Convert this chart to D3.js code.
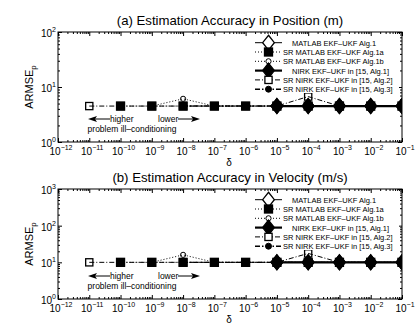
<!DOCTYPE html>
<html>
<head>
<meta charset="utf-8">
<script src="https://cdn.jsdelivr.net/npm/d3@7"></script>
<style>
  body { margin: 0; background: #fff; }
  svg { font-family: "Liberation Sans", Arial, Helvetica, sans-serif; }
</style>
</head>
<body>
<div id="chart"></div>
<script>
// delta values (x axis), 1e-11 .. 1e-1
const deltas = [1e-11, 1e-10, 1e-9, 1e-8, 1e-7, 1e-6, 1e-5, 1e-4, 1e-3, 1e-2, 1e-1];

// legend labels
const seriesNames = [
    "MATLAB EKF\u2013UKF Alg.1",
    "SR MATLAB EKF\u2013UKF Alg.1a",
    "SR MATLAB EKF\u2013UKF Alg.1b",
    "NIRK EKF\u2013UKF in [15, Alg.1]",
    "SR NIRK EKF\u2013UKF in [15, Alg.2]",
    "SR NIRK EKF\u2013UKF in [15, Alg.3]"
];

// (a) position ARMSE (null = not shown)
const posMatlab1  = [null, null, null, null, null, null, 4.5, 4.5, 4.5, 4.5, 4.5];
const posSrMat1a  = [null, 4.5, 4.5, 4.5, 4.5, 4.5, 4.5, 4.5, 4.5, 4.5, 4.5];
const posSrMat1b  = [null, null, 4.5, 6.1, 4.5, 4.5, 4.5, 4.5, 4.5, 4.5, 4.5];
const posNirk1    = [null, null, null, null, null, null, 4.5, 4.5, 4.5, 4.5, 4.5];
const posSrNirk2  = [4.5, 4.5, 4.5, 4.5, 4.5, 4.5, 4.5, 6.7, 4.5, 4.5, 4.5];
const posSrNirk3  = [null, 4.5, null, 4.5, 4.5, 4.5, 4.5, 4.5, 4.5, 4.5, 4.5];

// (b) velocity ARMSE
const velMatlab1  = [null, null, null, null, null, null, 10, 10, 10, 10, 10];
const velSrMat1a  = [null, 10, 10, 10, 10, 10, 10, 10, 10, 10, 10];
const velSrMat1b  = [null, null, 10, 16, 10, 10, 10, 10, 10, 10, 10];
const velNirk1    = [null, null, null, null, null, null, 10, 10, 10, 10, 10];
const velSrNirk2  = [10, 10, 10, 10, 10, 10, 10, 17.5, 10, 10, 10];
const velSrNirk3  = [null, 10, null, 10, 10, 10, 10, 10, 10, 10, 10];

const xDecades = d3.range(-12, 0);   // tick exponents on x
const titles = ["(a) Estimation Accuracy in Position (m)", "(b) Estimation Accuracy in Velocity (m/s)"];

const W = 415, H = 328;
const svg = d3.select("#chart").append("svg").attr("width", W).attr("height", H);

// line / marker styles per series
const styles = [
    { width: 1,   dash: null,        marker: "diamond", size: 6.5, fill: "#fff" },
    { width: 1,   dash: "1,2",       marker: "square",  size: 4,   fill: "#000" },
    { width: 1,   dash: "1,2",       marker: "circle",  size: 2.6, fill: "none" },
    { width: 2.2, dash: null,        marker: "diamond", size: 6.5, fill: "#000" },
    { width: 1,   dash: "5,2,1,2",   marker: "square",  size: 3.6, fill: "none" },
    { width: 1.4, dash: "5,2,1.5,2", marker: "circle",  size: 3,   fill: "#000" }
];

function drawMarker(g, type, cx, cy, r, fill) {
    if (type === "diamond") {
        g.append("path")
            .attr("d", `M${cx},${cy - r * 1.15} L${cx + r * 0.9},${cy} L${cx},${cy + r * 1.15} L${cx - r * 0.9},${cy} Z`)
            .attr("fill", fill).attr("stroke", "#000").attr("stroke-width", 1.3);
    } else if (type === "square") {
        g.append("rect")
            .attr("x", cx - r).attr("y", cy - r).attr("width", 2 * r).attr("height", 2 * r)
            .attr("fill", fill).attr("stroke", "#000").attr("stroke-width", 1.3);
    } else {
        g.append("circle")
            .attr("cx", cx).attr("cy", cy).attr("r", r)
            .attr("fill", fill).attr("stroke", "#000").attr("stroke-width", 1);
    }
}

function powLabel(sel, exp) {
    sel.append("tspan").text("10");
    sel.append("tspan").attr("dy", -5).attr("font-size", 7).text(exp < 0 ? "\u2212" + (-exp) : exp);
}

function panel(top, yMax, series, title) {
    const left = 58, right = 402, bottom = top + 110;
    const x = d3.scaleLog().domain([1e-12, 1e-1]).range([left, right]);
    const y = d3.scaleLog().domain([1, yMax]).range([bottom, top]);
    const g = svg.append("g");

    // frame
    g.append("rect").attr("x", left).attr("y", top).attr("width", right - left).attr("height", bottom - top)
        .attr("fill", "none").attr("stroke", "#000").attr("stroke-width", 1);

    // minor and major ticks, all four sides, pointing inward
    const xMinor = [];
    for (let e = -12; e < -1; e++) for (let m = 2; m <= 9; m++) xMinor.push(m * Math.pow(10, e));
    const yExp = d3.range(0, Math.round(Math.log10(yMax)) + 1);
    const yMinor = [];
    for (let e = 0; e < yExp.length - 1; e++) for (let m = 2; m <= 9; m++) yMinor.push(m * Math.pow(10, e));

    const xMajor = d3.range(-12, 0).map(e => Math.pow(10, e));
    g.append("g").attr("transform", `translate(0,${bottom})`)
        .call(d3.axisBottom(x).tickValues(xMajor).tickSize(-4).tickFormat(""))
        .call(a => a.select(".domain").remove());
    g.append("g").attr("transform", `translate(0,${bottom})`)
        .call(d3.axisBottom(x).tickValues(xMinor).tickSize(-2).tickFormat(""))
        .call(a => a.select(".domain").remove());
    g.append("g").attr("transform", `translate(0,${top})`)
        .call(d3.axisTop(x).tickValues(xMajor).tickSize(-4).tickFormat(""))
        .call(a => a.select(".domain").remove());
    g.append("g").attr("transform", `translate(0,${top})`)
        .call(d3.axisTop(x).tickValues(xMinor).tickSize(-2).tickFormat(""))
        .call(a => a.select(".domain").remove());
    const yMajor = yExp.map(e => Math.pow(10, e));
    [[d3.axisLeft, left], [d3.axisRight, right]].forEach(([ax, pos]) => {
        g.append("g").attr("transform", `translate(${pos},0)`)
            .call(ax(y).tickValues(yMajor).tickSize(-4).tickFormat(""))
            .call(a => a.select(".domain").remove());
        g.append("g").attr("transform", `translate(${pos},0)`)
            .call(ax(y).tickValues(yMinor).tickSize(-2).tickFormat(""))
            .call(a => a.select(".domain").remove());
    });

    // tick labels
    xDecades.forEach(e => {
        g.append("text").attr("x", x(Math.pow(10, e)) + 3).attr("y", bottom + 13)
            .attr("text-anchor", "middle").attr("font-size", 10).call(powLabel, e);
    });
    yExp.forEach(e => {
        g.append("text").attr("x", left - 2).attr("y", y(Math.pow(10, e)) + 5)
            .attr("text-anchor", "end").attr("font-size", 10).call(powLabel, e);
    });

    // title and axis labels
    g.append("text").attr("x", 230).attr("y", top - 7).attr("text-anchor", "middle")
        .attr("font-size", 13.2).text(title);
    g.append("text").attr("x", 229).attr("y", bottom + 24).attr("text-anchor", "middle")
        .attr("font-size", 10).text("\u03b4");
    const yl = g.append("text").attr("transform", `translate(33,${(top + bottom) / 2}) rotate(-90)`)
        .attr("text-anchor", "middle").attr("font-size", 11);
    yl.append("tspan").text("ARMSE");
    yl.append("tspan").attr("dy", 3).attr("font-size", 8).text("p");

    // annotation
    const ay = bottom - 23;
    g.append("line").attr("x1", 93).attr("x2", 110).attr("y1", ay).attr("y2", ay).attr("stroke", "#000");
    g.append("path").attr("d", `M88,${ay} L97,${ay - 3} L95,${ay} L97,${ay + 3} Z`).attr("fill", "#000");
    g.append("text").attr("x", 110).attr("y", ay + 3).attr("font-size", 8.5).text("higher");
    g.append("text").attr("x", 158).attr("y", ay + 3).attr("font-size", 8.5).text("lower");
    g.append("line").attr("x1", 178).attr("x2", 195).attr("y1", ay).attr("y2", ay).attr("stroke", "#000");
    g.append("path").attr("d", `M200,${ay} L191,${ay - 3} L193,${ay} L191,${ay + 3} Z`).attr("fill", "#000");
    g.append("text").attr("x", 132).attr("y", ay + 13).attr("text-anchor", "middle")
        .attr("font-size", 8.5).text("problem ill\u2013conditioning");

    // series lines
    const line = d3.line()
        .defined(d => d.v != null)
        .x(d => x(d.x)).y(d => y(d.v));
    const clip = "clip" + top;
    g.append("clipPath").attr("id", clip).append("rect")
        .attr("x", left).attr("y", top).attr("width", right - left).attr("height", bottom - top);
    const plot = g.append("g").attr("clip-path", `url(#${clip})`);
    series.forEach((vals, i) => {
        const st = styles[i];
        const pts = deltas.map((d, j) => ({ x: d, v: vals[j] }));
        plot.append("path").attr("d", line(pts)).attr("fill", "none").attr("stroke", "#000")
            .attr("stroke-width", st.width).attr("stroke-dasharray", st.dash);
        pts.filter(p => p.v != null).forEach(p => drawMarker(plot, st.marker, x(p.x), y(p.v), st.size, st.fill));
    });

    // legend
    const lg = g.append("g");
    lg.append("rect").attr("x", 252).attr("y", top + 4).attr("width", right - 255).attr("height", 57).attr("fill", "#fff");
    seriesNames.forEach((name, i) => {
        const st = styles[i];
        const ly = top + 10.7 + i * 9.3;
        lg.append("line").attr("x1", 255).attr("x2", 282).attr("y1", ly).attr("y2", ly)
            .attr("stroke", "#000").attr("stroke-width", st.width).attr("stroke-dasharray", st.dash);
        drawMarker(lg, st.marker, 268.5, ly, st.size, st.fill === "none" ? "#fff" : st.fill);
        const tx = name.startsWith("SR") ? 283 : 292;
        lg.append("text").attr("x", tx).attr("y", ly + 3).attr("font-size", 7.5).text(name);
    });
}

panel(32, 100, [posMatlab1, posSrMat1a, posSrMat1b, posNirk1, posSrNirk2, posSrNirk3], titles[0]);
panel(189, 1000, [velMatlab1, velSrMat1a, velSrMat1b, velNirk1, velSrNirk2, velSrNirk3], titles[1]);
</script>
</body>
</html>
